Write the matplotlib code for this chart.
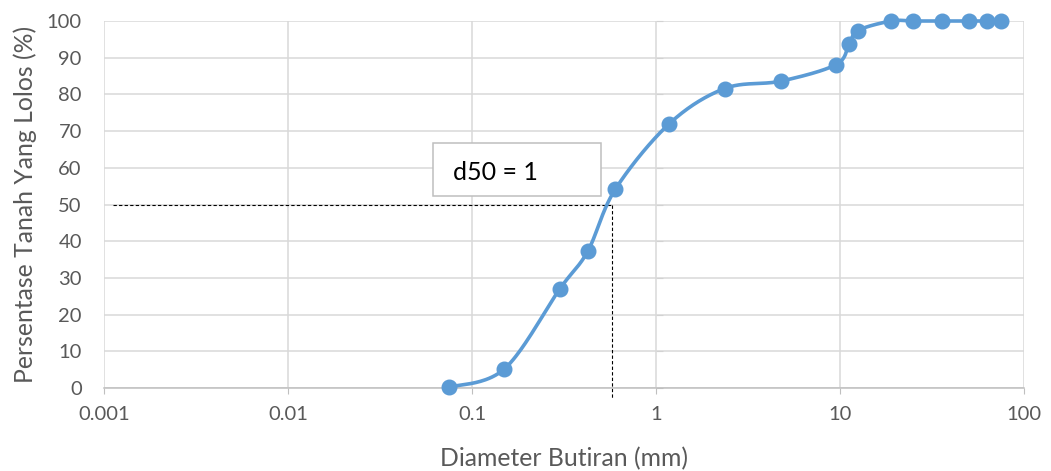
import numpy as np
import matplotlib
matplotlib.use("Agg")
import matplotlib.pyplot as plt
from matplotlib.patches import Rectangle

plt.rcParams['font.family'] = ['Lato', 'DejaVu Sans']

# data analisa saringan
diameter = [0.075, 0.15, 0.3, 0.425, 0.6, 1.18, 2.36, 4.75, 9.5, 11.2, 12.5,
            19, 25, 36, 50, 63, 75]
lolos = [0.2, 5.2, 27.0, 37.2, 54.1, 72.0, 81.6, 83.6, 88.1, 93.6, 97.4,
         100, 100, 100, 100, 100, 100]
x_ticks = [0.001, 0.01, 0.1, 1, 10, 100]
x_ticklabels = ["0.001", "0.01", "0.1", "1", "10", "100"]
y_ticks = list(range(0, 101, 10))

d50_x = 0.58
d50_y = 50
d50_text = "d50 = 1"

biru = "#5b9bd5"
abu_grid = "#d9d9d9"
abu_sumbu = "#bfbfbf"
abu_teks = "#595959"


def kurva_halus(xs, ys, n=40):
    # spline catmull-rom di ruang log-x (mirip smoothed line excel)
    u = np.log10(xs)
    v = np.array(ys, dtype=float)
    P = np.column_stack([u, v])
    P = np.vstack([P[0], P, P[-1]])
    out = []
    t = np.linspace(0, 1, n)[:, None]
    for i in range(1, len(P) - 2):
        p0, p1, p2, p3 = P[i - 1], P[i], P[i + 1], P[i + 2]
        c1 = p1 + (p2 - p0) / 6
        c2 = p2 - (p3 - p1) / 6
        seg = ((1 - t) ** 3) * p1 + 3 * ((1 - t) ** 2) * t * c1 \
            + 3 * (1 - t) * t ** 2 * c2 + t ** 3 * p2
        out.append(seg)
    out = np.vstack(out)
    return 10 ** out[:, 0], out[:, 1]


fig = plt.figure(figsize=(10.51, 4.71), dpi=100)
ax = fig.add_axes([104 / 1051, 1 - 388 / 471, 920 / 1051, 367 / 471])

ax.set_xscale("log")
ax.set_xlim(0.001, 100)
ax.set_ylim(0, 100)

# grid
ax.grid(True, which="major", color=abu_grid, linewidth=1.1)
ax.minorticks_off()
ax.set_axisbelow(True)

for s in ["top", "right", "left"]:
    ax.spines[s].set_visible(False)
ax.spines["bottom"].set_color(abu_sumbu)
ax.spines["bottom"].set_linewidth(1.1)

ax.set_xticks(x_ticks)
ax.set_xticklabels(x_ticklabels)
ax.set_yticks(y_ticks)
ax.tick_params(axis="x", direction="out", length=4, color=abu_sumbu,
               labelsize=14.5, labelcolor=abu_teks, pad=9)
ax.tick_params(axis="y", length=0, labelsize=14.5, labelcolor=abu_teks, pad=16)

# sumbu vertikal memotong di x = 1 (gaya excel)
sec = ax.secondary_yaxis(0.6)
sec.set_yticks(y_ticks)
sec.tick_params(axis="y", direction="out", length=5, color=abu_sumbu,
                labelleft=False, labelright=False)
sec.spines["left"].set_color(abu_sumbu)
sec.spines["left"].set_linewidth(1.1)
sec.spines["right"].set_visible(False)

# kurva
hx, hy = kurva_halus(diameter, lolos)
ax.plot(hx, hy, color=biru, linewidth=2.6, clip_on=False, zorder=3)
ax.plot(diameter, lolos, "o", color=biru, markersize=10.5, clip_on=False,
        zorder=4)

# garis d50
ax.plot([0.00112, d50_x], [d50_y, d50_y], color="black", linewidth=0.8,
        linestyle=(0, (3, 2)), zorder=2)
ax.plot([d50_x, d50_x], [d50_y, -2.6], color="black", linewidth=0.8,
        linestyle=(0, (3, 2)), clip_on=False, zorder=2)

# kotak label
kotak = Rectangle((0.0614, 52.2), 0.502 - 0.0614, 14.5, facecolor="white",
                  edgecolor=abu_sumbu, linewidth=1.1, zorder=5)
ax.add_patch(kotak)
ax.text(0.0788, 58.8, d50_text, fontsize=18, color="black", va="center",
        ha="left", zorder=6)

ax.set_xlabel("Diameter Butiran (mm)", fontsize=17.8, color=abu_teks,
              labelpad=17)
ax.set_ylabel("Persentase Tanah Yang Lolos (%)", fontsize=17.8,
              color=abu_teks, labelpad=7)

fig.savefig("out.png", dpi=100)
